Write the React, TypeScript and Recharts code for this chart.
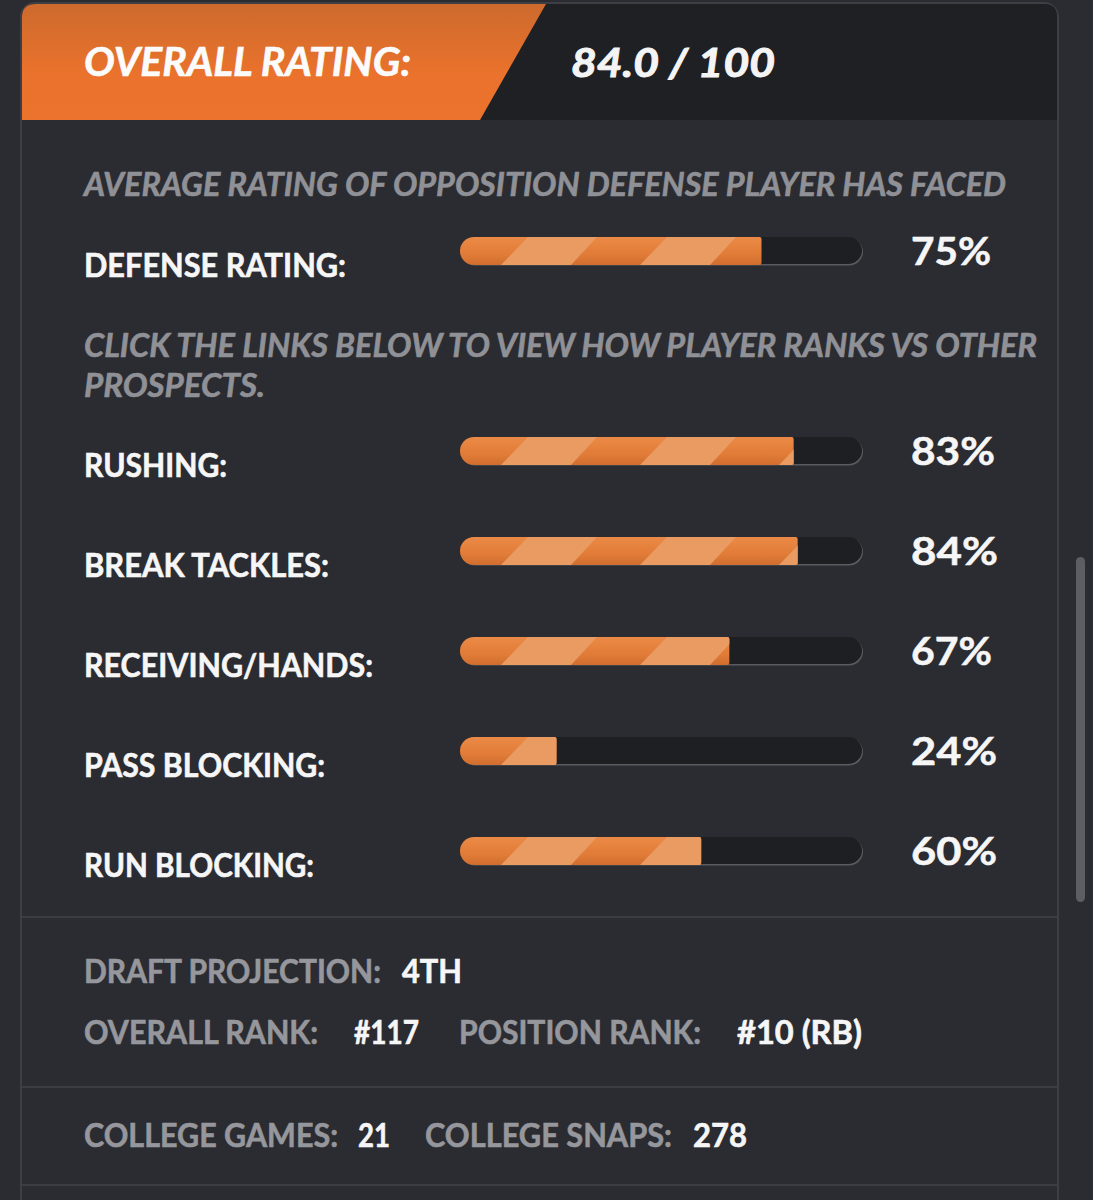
import React from "react";
import { BarChart, Bar, XAxis, YAxis, LabelList } from "recharts";

const categories = ["DEFENSE RATING:", " ", "RUSHING:", "BREAK TACKLES:", "RECEIVING/HANDS:", "PASS BLOCKING:", "RUN BLOCKING:"];
const percentValues: (number | null)[] = [75, null, 83, 84, 67, 24, 60];
const overallLabel = "OVERALL RATING:";
const overallValue = "84.0 / 100";

const rows = categories.map((label, i) => ({ label, value: percentValues[i] }));

const FONT = "Lato, 'Noto Sans', sans-serif";
const labelWidths: Record<string, number> = {
  "DEFENSE RATING:": 262,
  "RUSHING:": 143,
  "BREAK TACKLES:": 245,
  "RECEIVING/HANDS:": 289,
  "PASS BLOCKING:": 241,
  "RUN BLOCKING:": 230,
};
const valueWidths: Record<number, number> = { 75: 80, 83: 84, 84: 87, 67: 81, 24: 86, 60: 86 };

type T = { x: number; y: number; w: number; s: string; c?: string; size?: number; it?: boolean; sw?: number };
const GRAY = "#96979c";
const WHITE = "#f6f6f6";
const NOTE = "#909196";
const texts: T[] = [
  { x: 84, y: 76, w: 327, s: overallLabel, size: 40, it: true, c: "#fbfbfb" },
  { x: 571, y: 77, w: 204, s: overallValue, size: 41, it: true, c: "#f4f4f4", sw: 1 },
  { x: 84, y: 196, w: 922, s: "AVERAGE RATING OF OPPOSITION DEFENSE PLAYER HAS FACED", size: 33, it: true, c: NOTE },
  { x: 84, y: 357, w: 953, s: "CLICK THE LINKS BELOW TO VIEW HOW PLAYER RANKS VS OTHER", size: 33, it: true, c: NOTE },
  { x: 84, y: 397, w: 181, s: "PROSPECTS.", size: 33, it: true, c: NOTE },
  { x: 84, y: 983, w: 297, s: "DRAFT PROJECTION:", c: GRAY },
  { x: 402, y: 983, w: 60, s: "4TH", c: WHITE },
  { x: 84, y: 1044, w: 234, s: "OVERALL RANK:", c: GRAY },
  { x: 354, y: 1044, w: 65, s: "#117", c: WHITE },
  { x: 459, y: 1044, w: 242, s: "POSITION RANK:", c: GRAY },
  { x: 737, y: 1044, w: 125, s: "#10 (RB)", c: WHITE },
  { x: 84, y: 1147, w: 254, s: "COLLEGE GAMES:", c: GRAY },
  { x: 358, y: 1147, w: 32, s: "21", c: WHITE },
  { x: 425, y: 1147, w: 247, s: "COLLEGE SNAPS:", c: GRAY },
  { x: 693, y: 1147, w: 54, s: "278", c: WHITE },
];

function Track(props: any) {
  const { x, y, width, height, payload, value } = props;
  if ((payload ? payload.value : value) == null) return <g />;
  const r = height / 2;
  return (
    <g>
      <rect x={x + 1} y={y + 1} width={width} height={height - 0.5} rx={r} fill="#5a5b60" />
      <rect x={x} y={y} width={width} height={height - 1} rx={r} fill="#1e1f23" />
    </g>
  );
}

function Fill(props: any) {
  const { x, y, width, height, index } = props;
  if (!width) return <g />;
  const id = `stripe-${index}`;
  const r = height / 2;
  const d = `M${x + r},${y} H${x + width - 2} Q${x + width},${y} ${x + width},${y + 2} V${y + height - 2} Q${x + width},${y + height} ${x + width - 2},${y + height} H${x + r} A${r},${r} 0 0 1 ${x + r},${y} Z`;
  return (
    <g>
      <defs>
        <pattern id={id} patternUnits="userSpaceOnUse" width={139} height={height} patternTransform={`translate(${x},${y})`}>
          <polygon points="68,0 137,0 111,28 41,28" fill="#e99b61" />
        </pattern>
      </defs>
      <path d={d} fill="url(#barBase)" />
      <path d={d} fill={`url(#${id})`} />
    </g>
  );
}

function CategoryTick(props: any) {
  const { y, payload } = props;
  const label = payload.value as string;
  if (!labelWidths[label]) return <g />;
  return (
    <text x={84} y={y + 26} fill={WHITE} stroke={WHITE} strokeWidth={0.6} fontFamily={FONT} fontWeight={700} fontSize={32}
      textLength={labelWidths[label]} lengthAdjust="spacingAndGlyphs">{label}</text>
  );
}

function ValueLabel(props: any) {
  const { y, height, value } = props;
  if (value == null) return <g />;
  return (
    <text x={911} y={y + height / 2 + 14} fill={WHITE} stroke={WHITE} strokeWidth={0.5} fontFamily={FONT} fontWeight={700} fontSize={39}
      textLength={valueWidths[value]} lengthAdjust="spacingAndGlyphs">{`${value}%`}</text>
  );
}

export default function App() {
  return (
    <div style={{ position: "absolute", left: 0, top: 0, width: 1093, height: 1200, overflow: "hidden", background: "#2b2c31" }}>
      <svg width={1093} height={1200} style={{ position: "absolute", left: 0, top: 0 }}>
        <defs>
          <linearGradient id="head" x1="0" y1="0" x2="0" y2="1">
            <stop offset="0" stopColor="#cd6a2d" />
            <stop offset="0.6" stopColor="#ea722c" />
            <stop offset="1" stopColor="#ec732c" />
          </linearGradient>
        </defs>
        <rect x={21} y={3} width={1037} height={1300} rx={14} fill="#2b2c31" stroke="#3e3f45" strokeWidth={2} />
        <path d="M36,4 H1044 Q1057,4 1057,17 V120 H22 V17 Q22,4 36,4 Z" fill="#1f2024" />
        <path d="M36,4 H546 L480,120 H22 V17 Q22,4 36,4 Z" fill="url(#head)" />
        {[916, 1086, 1184].map((y) => (
          <rect key={y} x={22} y={y} width={1035} height={2} fill="#3c3d43" />
        ))}
        <rect x={1076} y={557} width={9} height={345} rx={4.5} fill="#5d5e63" />
        {texts.map((t) => (
          <text key={t.s} x={t.x} y={t.y} fill={t.c} stroke={t.c} strokeWidth={t.sw ?? 0.6} fontFamily={FONT} fontWeight={700} fontStyle={t.it ? "italic" : "normal"}
            fontSize={t.size ?? 32} textLength={t.w} lengthAdjust="spacingAndGlyphs">{t.s}</text>
        ))}
      </svg>
      <div style={{ position: "absolute", left: 0, top: 0 }}>
        <BarChart width={1093} height={1200} data={rows} layout="vertical"
          margin={{ top: 201, bottom: 299, left: 84, right: 231 }} style={{ background: "transparent" }}>
          <defs>
            <linearGradient id="barBase" x1="0" y1="0" x2="0" y2="1">
              <stop offset="0" stopColor="#ea8a46" />
              <stop offset="0.6" stopColor="#e27c38" />
              <stop offset="1" stopColor="#d06e2f" />
            </linearGradient>
          </defs>
          <XAxis type="number" domain={[0, 100]} hide />
          <YAxis type="category" dataKey="label" width={376} axisLine={false} tickLine={false} interval={0} tick={<CategoryTick />} />
          <Bar dataKey="value" barSize={28} isAnimationActive={false} background={<Track />} shape={<Fill />}>
            <LabelList dataKey="value" content={<ValueLabel />} />
          </Bar>
        </BarChart>
      </div>
    </div>
  );
}
